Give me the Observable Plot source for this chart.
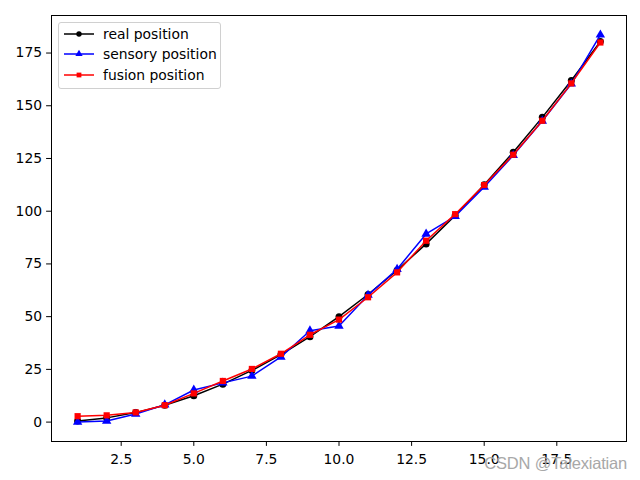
<!DOCTYPE html>
<html><head><meta charset="utf-8">
<script src="https://cdn.jsdelivr.net/npm/d3@7"></script>
<script src="https://cdn.jsdelivr.net/npm/@observablehq/plot@0.6"></script>
<style>
body{margin:0;background:#fff}
#c{position:relative;width:640px;height:480px;font-family:"DejaVu Sans",sans-serif}
#legend{position:absolute;left:58px;top:22px;width:161px;height:65px;border:1px solid #d0d0d0;border-radius:3px;background:rgba(255,255,255,0.8);font-size:13.9px}
#legend .row{position:absolute;left:0;height:20px;display:flex;align-items:center}
#legend .row svg{margin-left:5px}
#legend .row span{margin-left:9px;white-space:nowrap}
#wm{position:absolute;right:13px;top:454px;font-family:"Liberation Sans",sans-serif;font-size:16.5px;color:#a8a8a8;letter-spacing:-0.2px}
</style>
</head><body><div id="c"></div>
<script>
const steps = [1,2,3,4,5,6,7,8,9,10,11,12,13,14,15,16,17,18,19];
const realPos = [0.5,2,4.5,8,12.5,18,24.5,32,40.5,50,60.5,72,84.5,98,112.5,128,144.5,162,180.5];
const sensoryPos = [0,0.5,3.8,8.2,15.2,18.6,21.8,30.9,43.3,45.6,60.2,72.5,89.2,97.6,111.5,126.5,142.8,160.4,183.6];
const fusionPos = [2.8,3.2,4.6,8,13.6,19.5,25.2,32.4,41.4,48.6,59.2,71,86,98.6,112.4,126.8,142.9,160.6,180];
const xTicks = [2.5,5,7.5,10,12.5,15,17.5];
const yTicks = [0,25,50,75,100,125,150,175];
const seriesNames = ["real position","sensory position","fusion position"];
const seriesColors = ["black","blue","red"];
const seriesSymbols = ["circle","triangle","square"];
const seriesValues = [realPos, sensoryPos, fusionPos];

const marks = [Plot.frame({stroke:"black", strokeWidth:1})];
seriesValues.forEach((vals, i) => {
  const rows = steps.map((s, j) => ({x: s, y: vals[j]}));
  marks.push(Plot.line(rows, {x:"x", y:"y", stroke: seriesColors[i], strokeWidth:1.5}));
  marks.push(Plot.dot(rows, {x:"x", y:"y", fill: seriesColors[i], stroke:"none", symbol: seriesSymbols[i], r: 3.5}));
});
marks.push(Plot.axisX({ticks: xTicks, tickFormat: d3.format(".1f"), tickSize: 4.9, tickPadding: 8, fontSize: 13.9, label: null}));
marks.push(Plot.axisY({ticks: yTicks, tickFormat: d3.format("d"), tickSize: 4.9, tickPadding: 4.5, fontSize: 13.9, label: null}));

const chart = Plot.plot({
  width: 640, height: 480,
  marginLeft: 51, marginRight: 14, marginTop: 15, marginBottom: 39,
  style: {fontFamily: "DejaVu Sans", fontSize: "13.9px", color: "black", background: "white"},
  x: {domain: [0.1, 19.9]},
  y: {domain: [-9.2, 192.8]},
  marks
});
const c = document.getElementById("c");
c.appendChild(chart);

const leg = document.createElement("div");
leg.id = "legend";
seriesNames.forEach((name, i) => {
  const row = document.createElement("div");
  row.className = "row";
  row.style.top = (0.5 + i * 20.6) + "px";
  const sym = d3.symbol(i === 0 ? d3.symbolCircle : i === 1 ? d3.symbolTriangle : d3.symbolSquare, Math.PI * 2.7 * 2.7)();
  row.innerHTML = `<svg width="30" height="12"><line x1="0" x2="30" y1="6" y2="6" stroke="${seriesColors[i]}" stroke-width="1.5"/><path d="${sym}" transform="translate(15,6)" fill="${seriesColors[i]}"/></svg><span>${name}</span>`;
  leg.appendChild(row);
});
c.appendChild(leg);

const wm = document.createElement("div");
wm.id = "wm";
wm.textContent = "CSDN @Talexiatian";
c.appendChild(wm);
</script>
</body></html>
